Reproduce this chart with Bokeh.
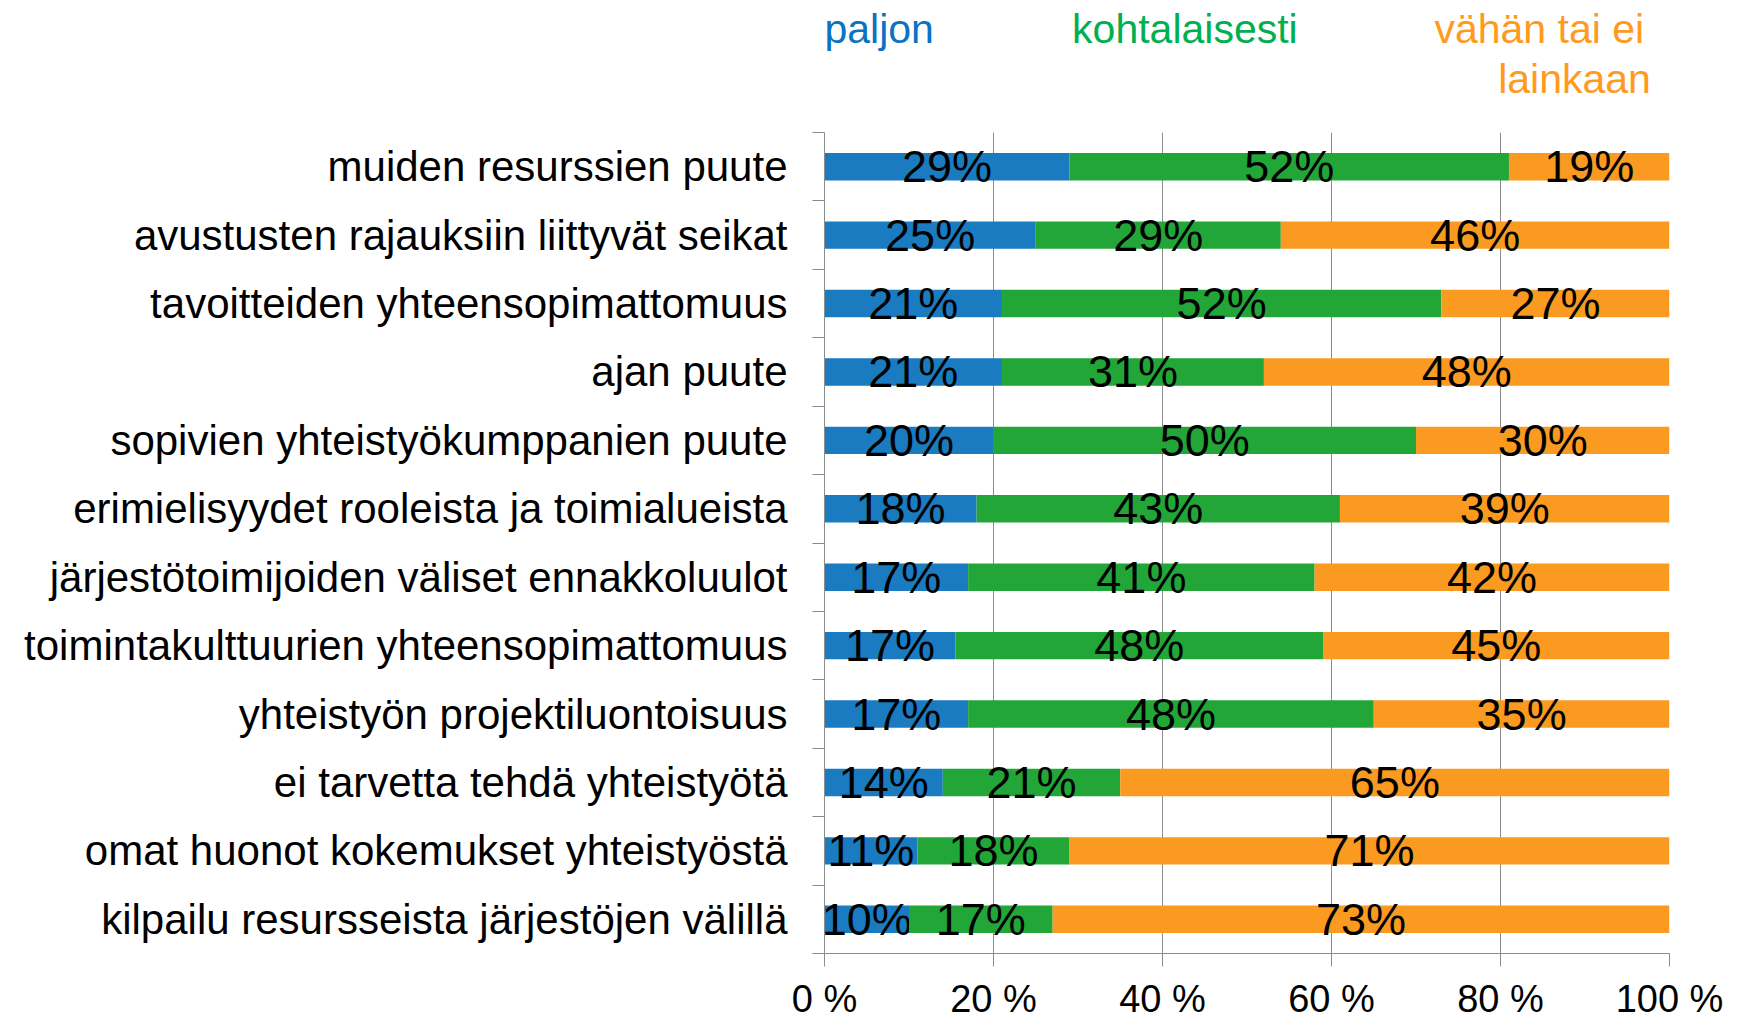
from bokeh.plotting import figure
from bokeh.layouts import column
from bokeh.models import ColumnDataSource, Range1d, FixedTicker
from bokeh.embed import file_html
from bokeh.resources import INLINE
from bokeh.core.properties import value

# ---------------- data (top to bottom) ----------------
categories = [
    "muiden resurssien puute",
    "avustusten rajauksiin liittyvät seikat",
    "tavoitteiden yhteensopimattomuus",
    "ajan puute",
    "sopivien yhteistyökumppanien puute",
    "erimielisyydet rooleista ja toimialueista",
    "järjestötoimijoiden väliset ennakkoluulot",
    "toimintakulttuurien yhteensopimattomuus",
    "yhteistyön projektiluontoisuus",
    "ei tarvetta tehdä yhteistyötä",
    "omat huonot kokemukset yhteistyöstä",
    "kilpailu resursseista järjestöjen välillä",
]
paljon = [29, 25, 21, 21, 20, 18, 17, 15.5, 17, 14, 11, 10]
kohtalaisesti = [52, 29, 52, 31, 50, 43, 41, 43.5, 48, 21, 18, 17]
vahan = [19, 46, 27, 48, 30, 39, 42, 41, 35, 65, 71, 73]

paljon_labels = ["29%", "25%", "21%", "21%", "20%", "18%", "17%", "17%", "17%", "14%", "11%", "10%"]
kohtalaisesti_labels = ["52%", "29%", "52%", "31%", "50%", "43%", "41%", "48%", "48%", "21%", "18%", "17%"]
vahan_labels = ["19%", "46%", "27%", "48%", "30%", "39%", "42%", "45%", "35%", "65%", "71%", "73%"]

x_ticks = [0, 20, 40, 60, 80, 100]
x_tick_labels = ["0 %", "20 %", "40 %", "60 %", "80 %", "100 %"]

series_names = ["paljon", "kohtalaisesti", "vähän tai ei", "lainkaan"]
bar_colors = ["#1b7bc0", "#22a638", "#fa9a21"]
text_colors = ["#0b72c4", "#00b050", "#ff9a1f"]

FONT = "Liberation Sans"
GRID = "#8c8c8c"

W = 1740
BL, BR = 824, 71
LEG_H = 110

n = len(categories)
ys = [n - 0.5 - i for i in range(n)]

# ---------------- legend strip (coloured texts) ----------------
leg = figure(width=W, height=LEG_H, x_range=Range1d(0, 100), y_range=Range1d(0, LEG_H),
             output_backend="svg", toolbar_location=None, x_axis_type=None, y_axis_type=None,
             min_border_left=BL, min_border_right=BR, min_border_top=0, min_border_bottom=0)
leg.outline_line_color = None
leg.xgrid.grid_line_color = None
leg.ygrid.grid_line_color = None
leg_src = ColumnDataSource(dict(
    x=[0, 29.3, 97.0, 97.8],
    y=[LEG_H - 28, LEG_H - 28, LEG_H - 28, LEG_H - 78],
    t=series_names,
    c=[text_colors[0], text_colors[1], text_colors[2], text_colors[2]],
    a=["left", "left", "right", "right"],
))
leg.text(x="x", y="y", text="t", text_color="c", text_align="a", text_baseline="middle",
         text_font=value(FONT), text_font_size="41px", source=leg_src)

# ---------------- main chart ----------------
p = figure(width=W, height=912, x_range=Range1d(0, 100), y_range=Range1d(0, n),
           output_backend="svg", toolbar_location=None,
           min_border_left=BL, min_border_right=BR, min_border_top=22, min_border_bottom=69)
p.outline_line_color = None
p.background_fill_color = "white"

series = [paljon, kohtalaisesti, vahan]
labels = [paljon_labels, kohtalaisesti_labels, vahan_labels]
left = [0.0] * n
for vals, lbls, col in zip(series, labels, bar_colors):
    right = [l + v for l, v in zip(left, vals)]
    src = ColumnDataSource(dict(y=ys, left=left, right=right,
                                cx=[(l + r) / 2 for l, r in zip(left, right)], lbl=lbls))
    p.hbar(y="y", left="left", right="right", height=0.4, source=src,
           fill_color=col, line_color=None)
    p.text(x="cx", y="y", text="lbl", source=src, text_align="center", text_baseline="middle",
           text_font=value(FONT), text_font_size="45px", text_color="black")
    left = right

# x axis
p.xaxis.ticker = FixedTicker(ticks=x_ticks, minor_ticks=[])
p.xaxis.major_label_overrides = {t: l for t, l in zip(x_ticks, x_tick_labels)}
p.xaxis.major_label_text_font = FONT
p.xaxis.major_label_text_font_size = "38px"
p.xaxis.major_label_text_color = "black"
p.xaxis.major_label_standoff = 11
p.xaxis.major_tick_out = 13
p.xaxis.major_tick_in = 0
p.xaxis.minor_tick_out = 0
p.xaxis.minor_tick_in = 0
p.xaxis.major_tick_line_color = GRID
p.xaxis.axis_line_color = GRID
p.xgrid.ticker = FixedTicker(ticks=x_ticks, minor_ticks=[])
p.xgrid.grid_line_color = GRID
p.ygrid.grid_line_color = None

# y axis: labels at row centres, small ticks at row boundaries
p.yaxis.ticker = FixedTicker(ticks=ys, minor_ticks=list(range(n + 1)))
p.yaxis.major_label_overrides = {y: c for y, c in zip(ys, categories)}
p.yaxis.major_label_text_font = FONT
p.yaxis.major_label_text_font_size = "42px"
p.yaxis.major_label_text_color = "black"
p.yaxis.major_label_standoff = 25
p.yaxis.major_tick_out = 0
p.yaxis.major_tick_in = 0
p.yaxis.minor_tick_out = 12
p.yaxis.minor_tick_in = 0
p.yaxis.minor_tick_line_color = GRID
p.yaxis.axis_line_color = GRID

layout = column(leg, p, spacing=0)
open("out.html", "w").write(file_html(layout, INLINE))
